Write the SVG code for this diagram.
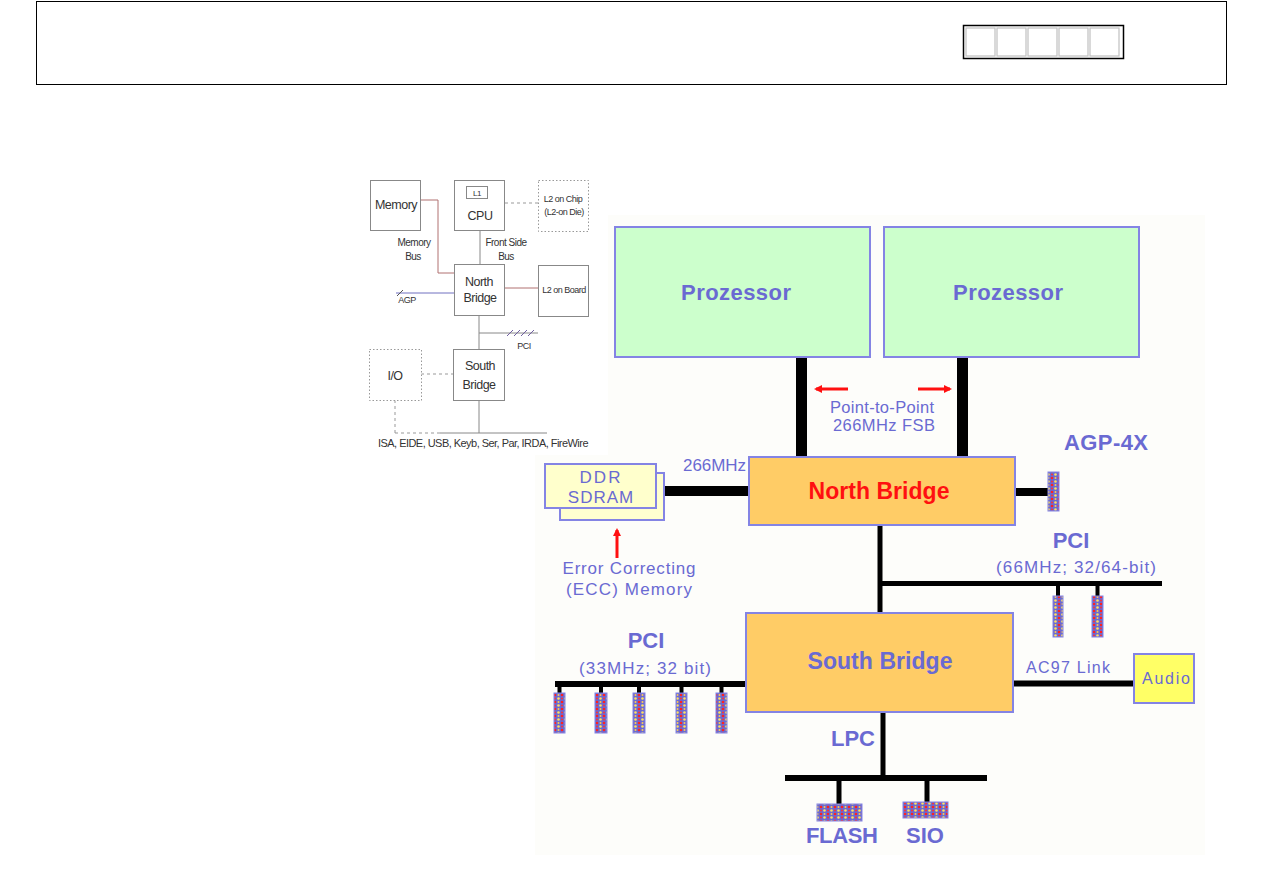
<svg xmlns="http://www.w3.org/2000/svg" width="1263" height="893" viewBox="0 0 1263 893">
<defs>
<pattern id="dots" width="7" height="7" patternUnits="userSpaceOnUse">
<rect width="7" height="7" fill="#6a6ad2"/>
<circle cx="2" cy="2" r="1.3" fill="#ff2020"/>
<circle cx="5.5" cy="5.5" r="1.3" fill="#ffe060"/>
<circle cx="5.5" cy="2" r="1" fill="#ffcc50"/>
<circle cx="2" cy="5.5" r="1" fill="#ff3030"/>
</pattern>
<marker id="rarrow" markerWidth="8" markerHeight="8" refX="6" refY="4" orient="auto" markerUnits="userSpaceOnUse">
<path d="M0,0 L8,4 L0,8 z" fill="#ff1010"/>
</marker>
</defs>
<style>
.sm{font-family:"Liberation Sans",Arial,sans-serif;font-size:11px;fill:#333;letter-spacing:-0.5px}
.smbox{fill:#fff;stroke:#888;stroke-width:1}
.dot{fill:#fff;stroke:#999;stroke-width:1;stroke-dasharray:1.5 2}
.dash{stroke:#999;stroke-width:1;stroke-dasharray:3 3;fill:none}
.sl{stroke:#888;stroke-width:1;fill:none}
.slp{stroke:#b07070;stroke-width:1;fill:none}
.t{font-family:"Liberation Sans",Arial,sans-serif;fill:#6a6ad2}
.b{font-weight:bold}
.box{stroke:#8484e4;stroke-width:2}
.bus{stroke:#000;fill:none}
.slot{fill:url(#dots);stroke:#8484e4;stroke-width:1}
.red{stroke:#ff1010;stroke-width:3;fill:none}
</style>
<rect width="1263" height="893" fill="#fff"/>
<g id="header">
<rect x="36.5" y="1.5" width="1190" height="83" fill="none" stroke="#000" stroke-width="1"/>
<rect x="963.5" y="25.5" width="160" height="33" fill="none" stroke="#000" stroke-width="1.5"/>
<g fill="none" stroke="#c0c0c0" stroke-width="1.2">
<rect x="966" y="28" width="29" height="28"/>
<rect x="997" y="28" width="29" height="28"/>
<rect x="1028" y="28" width="29" height="28"/>
<rect x="1059" y="28" width="29" height="28"/>
<rect x="1090" y="28" width="29" height="28"/>
</g>
</g>
<rect id="main-bg" x="535" y="215" width="670" height="640" fill="#fdfdfa"/>
<g id="small-diagram">
<rect x="360" y="170" width="248" height="285" fill="#fff"/>
<g id="connectors-small">
<polyline class="slp" points="421,200 438,200 438,273 454,273"/>
<line class="sl" x1="480" y1="230" x2="480" y2="264"/>
<line class="dash" x1="505" y1="203" x2="538" y2="203"/>
<line class="slp" x1="504" y1="288" x2="538" y2="288"/>
<line x1="396" y1="293" x2="454" y2="293" stroke="#7070c0" stroke-width="1"/>
<line x1="397" y1="296" x2="403" y2="290" stroke="#555" stroke-width="1"/>
<line class="sl" x1="479" y1="315" x2="479" y2="349"/>
<line class="sl" x1="479" y1="333" x2="538" y2="333"/>
<g stroke="#7060a0" stroke-width="1">
<line x1="507" y1="336" x2="513" y2="330"/>
<line x1="514" y1="336" x2="520" y2="330"/>
<line x1="521" y1="336" x2="527" y2="330"/>
<line x1="528" y1="336" x2="534" y2="330"/>
</g>
<line class="dash" x1="421" y1="374" x2="453" y2="374"/>
<line class="sl" x1="479" y1="400" x2="479" y2="433"/>
<line class="dash" x1="395" y1="400" x2="395" y2="433"/>
<line class="dash" x1="395" y1="433" x2="440" y2="433"/>
<line class="sl" x1="440" y1="433" x2="547" y2="433"/>
</g>
<g id="s-memory"><rect class="smbox" x="370.5" y="180.5" width="50" height="50"/><text class="sm" x="396" y="209" text-anchor="middle" style="font-size:12.5px">Memory</text></g>
<g id="s-cpu"><rect class="smbox" x="454.5" y="180.5" width="50" height="50"/><rect class="smbox" x="466.5" y="186.5" width="21" height="12"/><text class="sm" x="477" y="196" text-anchor="middle" style="font-size:8px">L1</text><text class="sm" x="480" y="220" text-anchor="middle" style="font-size:12.5px">CPU</text></g>
<g id="s-l2chip"><rect class="dot" x="538.5" y="180.5" width="50" height="51"/><text class="sm" x="563" y="202" text-anchor="middle" style="font-size:9px">L2 on Chip</text><text class="sm" x="564" y="215" text-anchor="middle" style="font-size:9px">(L2-on Die)</text></g>
<g id="s-labels"><text class="sm" x="414" y="246" text-anchor="middle" style="font-size:10px">Memory</text><text class="sm" x="413" y="260" text-anchor="middle" style="font-size:10px">Bus</text><text class="sm" x="506" y="246" text-anchor="middle" style="font-size:10px">Front Side</text><text class="sm" x="506" y="260" text-anchor="middle" style="font-size:10px">Bus</text><text class="sm" x="407" y="303" text-anchor="middle" style="font-size:9px">AGP</text><text class="sm" x="524" y="349" text-anchor="middle" style="font-size:9px">PCI</text></g>
<g id="s-northbridge"><rect class="smbox" x="454.5" y="264.5" width="50" height="51"/><text class="sm" x="479" y="286" text-anchor="middle" style="font-size:12.5px">North</text><text class="sm" x="480" y="302" text-anchor="middle" style="font-size:12.5px">Bridge</text></g>
<g id="s-l2board"><rect class="smbox" x="538.5" y="265.5" width="50" height="51"/><text class="sm" x="564" y="293" text-anchor="middle" style="font-size:9px">L2 on Board</text></g>
<g id="s-io"><rect class="dot" x="369.5" y="349.5" width="52" height="51"/><text class="sm" x="395" y="380" text-anchor="middle" style="font-size:12.5px">I/O</text></g>
<g id="s-southbridge"><rect class="smbox" x="453.5" y="349.5" width="51" height="51"/><text class="sm" x="480" y="370" text-anchor="middle" style="font-size:12.5px">South</text><text class="sm" x="479" y="389" text-anchor="middle" style="font-size:12.5px">Bridge</text></g>
<text class="sm" x="378" y="447" textLength="210" lengthAdjust="spacingAndGlyphs" style="font-size:10.5px">ISA, EIDE, USB, Keyb, Ser, Par, IRDA, FireWire</text>
</g>
<g id="connectors">
<line class="bus" x1="801.5" y1="357" x2="801.5" y2="458" stroke-width="11"/>
<line class="bus" x1="962.5" y1="357" x2="962.5" y2="458" stroke-width="11"/>
<line class="bus" x1="663" y1="491" x2="749" y2="491" stroke-width="10"/>
<line class="bus" x1="1015" y1="492" x2="1048" y2="492" stroke-width="8"/>
<line class="bus" x1="880" y1="525" x2="880" y2="613" stroke-width="5"/>
<line class="bus" x1="880" y1="583.5" x2="1162" y2="583.5" stroke-width="5"/>
<line class="bus" x1="1058" y1="583" x2="1058" y2="596" stroke-width="4"/>
<line class="bus" x1="1097.5" y1="583" x2="1097.5" y2="596" stroke-width="4"/>
<line class="bus" x1="555" y1="684" x2="746" y2="684" stroke-width="6"/>
<line class="bus" x1="559.5" y1="684" x2="559.5" y2="693" stroke-width="4"/>
<line class="bus" x1="601" y1="684" x2="601" y2="693" stroke-width="4"/>
<line class="bus" x1="639" y1="684" x2="639" y2="693" stroke-width="4"/>
<line class="bus" x1="681.5" y1="684" x2="681.5" y2="693" stroke-width="4"/>
<line class="bus" x1="721.5" y1="684" x2="721.5" y2="693" stroke-width="4"/>
<line class="bus" x1="1013" y1="683.5" x2="1134" y2="683.5" stroke-width="6"/>
<line class="bus" x1="883" y1="712" x2="883" y2="778" stroke-width="5"/>
<line class="bus" x1="785" y1="778" x2="987" y2="778" stroke-width="6"/>
<line class="bus" x1="839" y1="778" x2="839" y2="804" stroke-width="5"/>
<line class="bus" x1="927" y1="778" x2="927" y2="802" stroke-width="5"/>
<line class="red" x1="848" y1="389" x2="816" y2="389" marker-end="url(#rarrow)"/>
<line class="red" x1="918" y1="389" x2="950" y2="389" marker-end="url(#rarrow)"/>
<line class="red" x1="617" y1="558" x2="617" y2="530" marker-end="url(#rarrow)"/>
</g>
<g id="proc1"><rect class="box" x="615" y="227" width="255" height="130" fill="#ccffcc"/><text class="t b" x="736" y="300" text-anchor="middle" font-size="22" textLength="110">Prozessor</text></g>
<g id="proc2"><rect class="box" x="884" y="227" width="255" height="130" fill="#ccffcc"/><text class="t b" x="1008" y="300" text-anchor="middle" font-size="22" textLength="110">Prozessor</text></g>
<g id="fsb-label"><text class="t" x="882" y="413" text-anchor="middle" font-size="16.5" textLength="104">Point-to-Point</text><text class="t" x="884" y="431" text-anchor="middle" font-size="16.5" textLength="102">266MHz FSB</text></g>
<g id="northbridge"><rect class="box" x="749" y="457" width="266" height="68" fill="#ffcc66"/><text class="b" x="879" y="499" text-anchor="middle" font-size="23" fill="#ff1010" font-family="Liberation Sans, Arial, sans-serif" textLength="141">North Bridge</text></g>
<g id="ddr">
<rect class="box" x="560" y="473" width="104" height="47" fill="#ffffd0" stroke-width="1.5"/>
<rect class="box" x="545" y="464" width="111" height="44" fill="#ffffcc" stroke-width="1.5"/>
<text class="t" x="601" y="483" text-anchor="middle" font-size="17" letter-spacing="2">DDR</text>
<text class="t" x="601" y="503" text-anchor="middle" font-size="17" letter-spacing="1">SDRAM</text>
</g>
<text class="t" x="683" y="471" font-size="17" textLength="63">266MHz</text>
<g id="ecc-label"><text class="t" x="629" y="574" text-anchor="middle" font-size="17" textLength="133">Error Correcting</text><text class="t" x="629" y="595" text-anchor="middle" font-size="17" textLength="126">(ECC) Memory</text></g>
<g id="agp"><text class="t b" x="1106" y="450" text-anchor="middle" font-size="22" textLength="84">AGP-4X</text><rect class="slot" x="1048" y="472" width="11" height="39"/></g>
<g id="pci66"><text class="t b" x="1071" y="548" text-anchor="middle" font-size="22">PCI</text><text class="t" x="1076" y="573" text-anchor="middle" font-size="17" textLength="160">(66MHz; 32/64-bit)</text>
<rect class="slot" x="1053" y="596" width="10" height="41"/><rect class="slot" x="1092" y="596" width="11" height="41"/></g>
<g id="southbridge"><rect class="box" x="746" y="613" width="267" height="99" fill="#ffcc66"/><text class="t b" x="880" y="669" text-anchor="middle" font-size="23" textLength="145">South Bridge</text></g>
<g id="pci33"><text class="t b" x="646" y="648" text-anchor="middle" font-size="22">PCI</text><text class="t" x="645" y="674" text-anchor="middle" font-size="17" textLength="132">(33MHz; 32 bit)</text>
<rect class="slot" x="554" y="693" width="11" height="40"/><rect class="slot" x="595" y="693" width="12" height="40"/><rect class="slot" x="633" y="693" width="12" height="40"/><rect class="slot" x="676" y="693" width="11" height="40"/><rect class="slot" x="716" y="693" width="11" height="40"/></g>
<g id="audio"><text class="t" x="1068" y="673" text-anchor="middle" font-size="16" textLength="84">AC97 Link</text><rect class="box" x="1134" y="654" width="60" height="49" fill="#ffff66"/><text class="t" x="1166" y="684" text-anchor="middle" font-size="16" textLength="48">Audio</text></g>
<g id="lpc"><text class="t b" x="853" y="746" text-anchor="middle" font-size="22">LPC</text></g>
<g id="flash"><rect class="slot" x="817" y="804" width="45" height="17"/><text class="t b" x="842" y="843" text-anchor="middle" font-size="22" textLength="72">FLASH</text></g>
<g id="sio"><rect class="slot" x="903" y="802" width="45" height="16"/><text class="t b" x="925" y="843" text-anchor="middle" font-size="22">SIO</text></g>
</svg>
